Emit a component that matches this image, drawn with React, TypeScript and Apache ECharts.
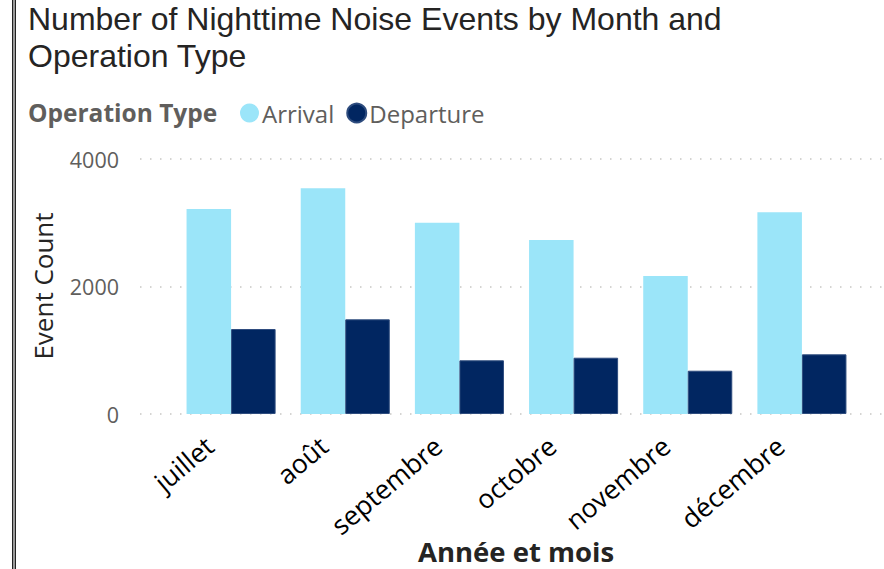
import React, { useEffect, useRef } from "react";
import * as echarts from "echarts";

const months = ["juillet", "août", "septembre", "octobre", "novembre", "décembre"];
const arrival = [3216, 3540, 3001, 2729, 2165, 3164];
const departure = [1333, 1485, 842, 883, 679, 936];
const yTicks = { min: 0, max: 4000, interval: 2000 };

const TITLE = "Number of Nighttime Noise Events by Month and\nOperation Type";

export default function App() {
  const ref = useRef<HTMLDivElement>(null);
  useEffect(() => {
    if (!ref.current) return;
    const chart = echarts.init(ref.current, undefined, { renderer: "svg" });
    const option: any = {
      animation: false,
      backgroundColor: "#ffffff",
      title: {
        text: TITLE,
        left: 28,
        top: 0,
        padding: 0,
        textStyle: {
          fontFamily: "Liberation Sans",
          fontSize: 32,
          fontWeight: "normal",
          color: "#252423",
          lineHeight: 37.5,
        },
      },
      legend: {
        left: 235,
        top: 96,
        icon: "circle",
        itemWidth: 19,
        itemHeight: 19,
        itemGap: 12,
        data: ["Arrival", "Departure"],
        textStyle: { fontFamily: "Open Sans", fontSize: 24, color: "#605E5C", padding: [0, 0, 0, -2] },
      },
      grid: [
        { left: 140, right: 0, top: 159, bottom: 155 },
        { left: 174, right: 25, top: 159, bottom: 155 },
      ],
      xAxis: [
        {
          type: "category",
          gridIndex: 0,
          data: months,
          show: false,
        },
        {
          type: "category",
          gridIndex: 1,
          data: months,
          axisLine: { show: false },
          axisTick: { show: false },
          axisLabel: {
            rotate: 40,
            fontFamily: "Open Sans",
            fontSize: 26.5,
            color: "#000000",
            margin: 10,
            padding: [0, 28, 0, 0],
          },
        },
      ],
      yAxis: [
        {
          type: "value",
          gridIndex: 0,
          min: yTicks.min,
          max: yTicks.max,
          interval: yTicks.interval,
          axisLine: { show: false },
          axisTick: { show: false },
          axisLabel: {
            fontFamily: "Open Sans",
            fontSize: 21.5,
            color: "#605E5C",
            margin: 21,
            formatter: (v: number) => String(v),
          },
          splitLine: { lineStyle: { color: "#C8C6C4", width: 1.5, type: [1.5, 8.5] } },
        },
        {
          type: "value",
          gridIndex: 1,
          min: yTicks.min,
          max: yTicks.max,
          interval: yTicks.interval,
          show: false,
          splitLine: { show: false },
        },
      ],
      series: [
        {
          name: "Arrival",
          type: "bar",
          xAxisIndex: 1,
          yAxisIndex: 1,
          data: arrival,
          barGap: "0%",
          barCategoryGap: "22%",
          itemStyle: { color: "#9BE5F9" },
        },
        {
          name: "Departure",
          type: "bar",
          xAxisIndex: 1,
          yAxisIndex: 1,
          data: departure,
          barGap: "0%",
          barCategoryGap: "22%",
          itemStyle: { color: "#012661", borderColor: "#2E4C7E", borderWidth: 1 },
        },
      ],
      graphic: [
        { type: "rect", shape: { x: 12, y: 0, width: 4, height: 569 }, style: { fill: "#9a9a9a" } },
        { type: "line", shape: { x1: 12.5, y1: 0, x2: 12.5, y2: 569 }, style: { stroke: "#222", lineWidth: 1 } },
        { type: "line", shape: { x1: 15.5, y1: 0, x2: 15.5, y2: 569 }, style: { stroke: "#222", lineWidth: 1 } },
        {
          type: "text",
          x: 28,
          y: 112,
          style: {
            text: "Operation Type",
            fontFamily: "Open Sans",
            fontSize: 24.5,
            fontWeight: "bold",
            fill: "#605E5C",
            textVerticalAlign: "middle",
          },
        },
        {
          type: "text",
          x: 43,
          y: 286,
          rotation: Math.PI / 2,
          style: {
            text: "Event Count",
            fontFamily: "Open Sans",
            fontSize: 26,
            fill: "#252423",
            textAlign: "center",
            textVerticalAlign: "middle",
          },
        },
        {
          type: "text",
          x: 516,
          y: 551,
          style: {
            text: "Année et mois",
            fontFamily: "Open Sans",
            fontSize: 27.5,
            fontWeight: "bold",
            fill: "#252423",
            textAlign: "center",
            textVerticalAlign: "middle",
          },
        },
      ],
    };
    chart.setOption(option);
    return () => chart.dispose();
  }, []);
  return (
    <div
      ref={ref}
      style={{ position: "absolute", left: 0, top: 0, width: 884, height: 569 }}
    />
  );
}
